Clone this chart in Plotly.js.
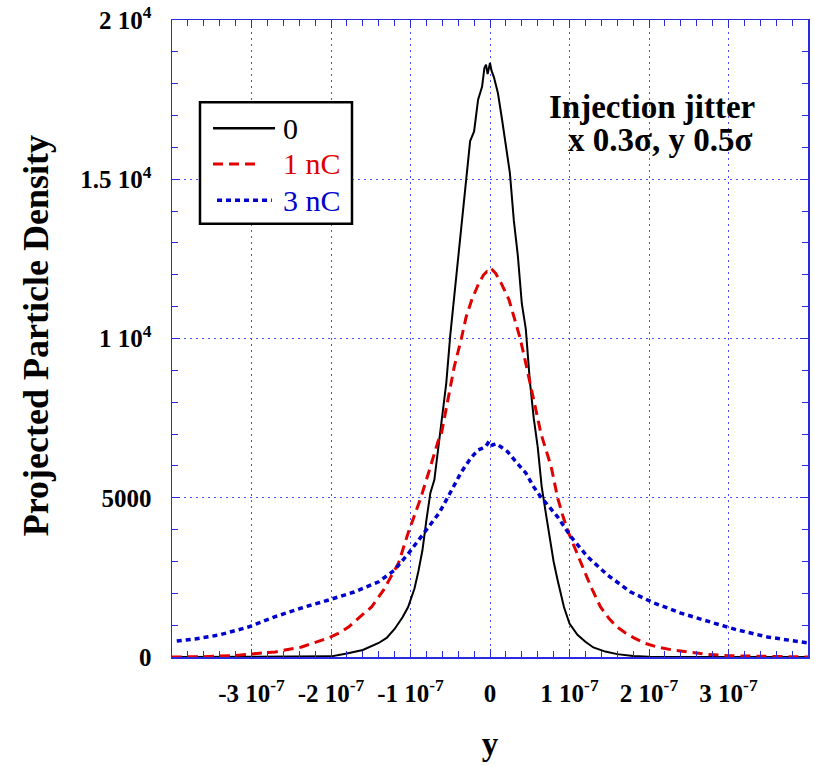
<!DOCTYPE html>
<html>
<head>
<meta charset="utf-8">
<script src="https://cdn.plot.ly/plotly-3.0.1.min.js"></script>
<style>html,body{margin:0;padding:0;background:#fff;}#chart{width:815px;height:766px;}</style>
</head>
<body>
<div id="chart"></div>
<script>
// series names
const seriesNames = ['0', '1 nC', '3 nC'];

// Series "0" (no charge)
const x0 = [-4.0e-7,-3.0e-7,-2.4e-7,-2.0e-7,-1.8e-7,-1.6e-7,-1.4e-7,-1.3e-7,-1.2e-7,-1.1e-7,-1.03e-7,-0.95e-7,-0.9e-7,-0.85e-7,-0.8e-7,-0.75e-7,-0.7e-7,-0.65e-7,-0.6e-7,-0.55e-7,-0.5e-7,-0.45e-7,-0.4e-7,-0.35e-7,-0.3e-7,-0.25e-7,-0.2e-7,-0.15e-7,-0.1e-7,-0.07e-7,-0.05e-7,-0.03e-7,0.0,0.02e-7,0.05e-7,0.1e-7,0.15e-7,0.2e-7,0.25e-7,0.3e-7,0.35e-7,0.4e-7,0.45e-7,0.5e-7,0.55e-7,0.6e-7,0.65e-7,0.7e-7,0.75e-7,0.8e-7,0.85e-7,0.93e-7,1.0e-7,1.1e-7,1.2e-7,1.3e-7,1.45e-7,1.6e-7,1.8e-7,2.0e-7,2.5e-7,4.0e-7];
const y0 = [0,0,5,20,110,220,440,600,880,1250,1570,2150,2700,3350,4300,5150,5560,6600,7600,8600,10100,11300,12500,13900,15000,16200,16500,17500,17900,18500,18600,18300,18650,18400,18200,17700,16900,16000,15200,13700,12600,11100,10300,8700,7500,6600,5350,4550,3700,3000,2420,1570,1050,700,480,300,170,90,30,10,0,0];

// Series "1 nC"
const x1 = [-4.0e-7,-3.6e-7,-3.2e-7,-2.9e-7,-2.7e-7,-2.37e-7,-2.2e-7,-2.03e-7,-1.9e-7,-1.78e-7,-1.65e-7,-1.49e-7,-1.34e-7,-1.25e-7,-1.15e-7,-1.03e-7,-0.95e-7,-0.87e-7,-0.75e-7,-0.65e-7,-0.61e-7,-0.53e-7,-0.45e-7,-0.36e-7,-0.3e-7,-0.23e-7,-0.14e-7,-0.08e-7,-0.04e-7,0.0,0.03e-7,0.07e-7,0.14e-7,0.24e-7,0.3e-7,0.38e-7,0.46e-7,0.55e-7,0.64e-7,0.68e-7,0.77e-7,0.85e-7,0.92e-7,0.99e-7,1.07e-7,1.14e-7,1.22e-7,1.29e-7,1.39e-7,1.5e-7,1.6e-7,1.7e-7,1.81e-7,1.95e-7,2.1e-7,2.3e-7,2.48e-7,2.7e-7,3.0e-7,3.5e-7,4.0e-7];
const y1 = [0,10,50,110,160,314,450,600,750,940,1230,1570,2100,2500,2950,3890,4450,5000,5970,6800,7030,8070,9110,10000,10680,11210,11740,12000,12100,12050,12150,12050,11740,11210,10680,10000,9110,8070,7030,6700,5970,5000,4400,3890,3400,2950,2500,2100,1570,1200,940,760,600,430,314,220,160,90,40,10,0];

// Series "3 nC"
const x3 = [-3.94e-7,-3.71e-7,-3.41e-7,-3.04e-7,-2.71e-7,-2.37e-7,-2.03e-7,-1.71e-7,-1.4e-7,-1.2e-7,-1.02e-7,-0.83e-7,-0.64e-7,-0.53e-7,-0.45e-7,-0.36e-7,-0.24e-7,-0.15e-7,-0.1e-7,-0.05e-7,-0.01e-7,0.03e-7,0.08e-7,0.14e-7,0.22e-7,0.33e-7,0.45e-7,0.55e-7,0.64e-7,0.75e-7,0.85e-7,1.02e-7,1.23e-7,1.48e-7,1.77e-7,2.06e-7,2.4e-7,2.77e-7,3.11e-7,3.49e-7,3.9e-7,4.0e-7];
const y3 = [500,565,690,940,1260,1540,1790,2040,2360,2730,3270,3890,4520,5020,5400,5810,6250,6500,6550,6620,6780,6650,6700,6590,6450,6120,5780,5340,5020,4700,4400,3770,3140,2570,2040,1700,1380,1100,850,630,470,440];

// Axis ticks
const xTickVals = [-3e-7,-2e-7,-1e-7,0,1e-7,2e-7,3e-7];
const xTickText = ['-3 10<sup>-7</sup>','-2 10<sup>-7</sup>','-1 10<sup>-7</sup>','0','1 10<sup>-7</sup>','2 10<sup>-7</sup>','3 10<sup>-7</sup>'];
const yTickVals = [0,5000,10000,15000,20000];
const yTickText = ['0','5000','1 10<sup>4</sup>','1.5 10<sup>4</sup>','2 10<sup>4</sup>'];

// text
const noteLines = ['Injection jitter', 'x 0.3σ, y 0.5σ'];
const yTitle = 'Projected Particle Density';
const xTitle = 'y';

const serif = 'Liberation Serif, Times New Roman, serif';
const axisBlue = '#2a2ae0';
const gridBlue = '#4d4dff';
const colors = ['#000000', '#e00000', '#0000cc'];
const dashes = ['solid', '10px,6px', '5px,4px'];
const widths = [2, 3, 3.5];

const traces = [
  {x: x0, y: y0, mode: 'lines', name: seriesNames[0], line: {color: colors[0], width: widths[0], dash: dashes[0]}},
  {x: x1, y: y1, mode: 'lines', name: seriesNames[1], line: {color: colors[1], width: widths[1], dash: dashes[1]}},
  {x: x3, y: y3, mode: 'lines', name: seriesNames[2], line: {color: colors[2], width: widths[2], dash: dashes[2]}}
];

const noteFont = {family: serif, size: 33, color: '#000000', weight: 'bold'};

// Legend layout (paper coordinates)
const legBox = {x0: 0.044, x1: 0.283, y0: 0.680, y1: 0.871};
const legRowsY = [0.830, 0.774, 0.717];
const legLineX = [[0.0645, 0.162], [0.0645, 0.140], [0.0708, 0.157]];
const legTextX = 0.172;

const shapes = [
  {type: 'rect', xref: 'paper', yref: 'paper', x0: legBox.x0, x1: legBox.x1, y0: legBox.y0, y1: legBox.y1,
   line: {color: '#000000', width: 2.5}, fillcolor: '#ffffff', layer: 'above'}
];
const annotations = [];
seriesNames.forEach((nm, i) => {
  shapes.push({type: 'line', xref: 'paper', yref: 'paper', x0: legLineX[i][0], x1: legLineX[i][1],
    y0: legRowsY[i], y1: legRowsY[i], line: {color: colors[i], width: widths[i] + (i === 0 ? 0.5 : 0), dash: dashes[i]}, layer: 'above'});
  annotations.push({xref: 'paper', yref: 'paper', x: legTextX, y: legRowsY[i], xanchor: 'left', yanchor: 'middle',
    showarrow: false, text: nm, font: {family: serif, size: 30, color: colors[i]}});
});
annotations.push(
  {xref: 'paper', yref: 'paper', x: 0.755, y: 0.863, xanchor: 'center', yanchor: 'middle', showarrow: false,
   text: noteLines[0], font: noteFont},
  {xref: 'paper', yref: 'paper', x: 0.768, y: 0.812, xanchor: 'center', yanchor: 'middle', showarrow: false,
   text: noteLines[1], font: noteFont},
  {xref: 'paper', yref: 'paper', x: -0.214, y: 0.505, xanchor: 'center', yanchor: 'middle', showarrow: false,
   textangle: -90, text: yTitle, font: {family: serif, size: 36, color: '#000000', weight: 'bold'}}
);

const layout = {
  width: 815, height: 766,
  margin: {l: 172, r: 7, t: 20, b: 109},
  paper_bgcolor: '#ffffff', plot_bgcolor: '#ffffff',
  showlegend: false,
  xaxis: {
    range: [-4e-7, 4e-7], tickmode: 'array', tickvals: xTickVals, ticktext: xTickText,
    tickfont: {family: serif, size: 25, color: '#000000', weight: 'bold'},
    ticks: 'inside', ticklen: 8, tickcolor: axisBlue, tickwidth: 1,
    ticklabelstandoff: 13,
    showline: true, linecolor: axisBlue, linewidth: 1.5, mirror: 'allticks',
    showgrid: true, gridcolor: gridBlue, gridwidth: 1, griddash: '2px,4px',
    zeroline: false,
    minor: {tickmode: 'linear', tick0: 0, dtick: 2e-8, ticks: 'inside', ticklen: 6, tickcolor: axisBlue, showgrid: false},
    title: {text: xTitle, font: {family: serif, size: 33, color: '#000000', weight: 'bold'}, standoff: 26}
  },
  yaxis: {
    range: [0, 20000], tickmode: 'array', tickvals: yTickVals, ticktext: yTickText,
    tickfont: {family: serif, size: 25, color: '#000000', weight: 'bold'},
    ticks: 'inside', ticklen: 8, tickcolor: axisBlue, tickwidth: 1,
    ticklabelstandoff: 14,
    showline: true, linecolor: axisBlue, linewidth: 1.5, mirror: 'allticks',
    showgrid: true, gridcolor: gridBlue, gridwidth: 1, griddash: '2px,4px',
    zeroline: false,
    minor: {tickmode: 'linear', tick0: 0, dtick: 1000, ticks: 'inside', ticklen: 6, tickcolor: axisBlue, showgrid: false}
  },
  shapes: shapes,
  annotations: annotations
};

Plotly.newPlot('chart', traces, layout, {displayModeBar: false, staticPlot: true});
</script>
</body>
</html>
